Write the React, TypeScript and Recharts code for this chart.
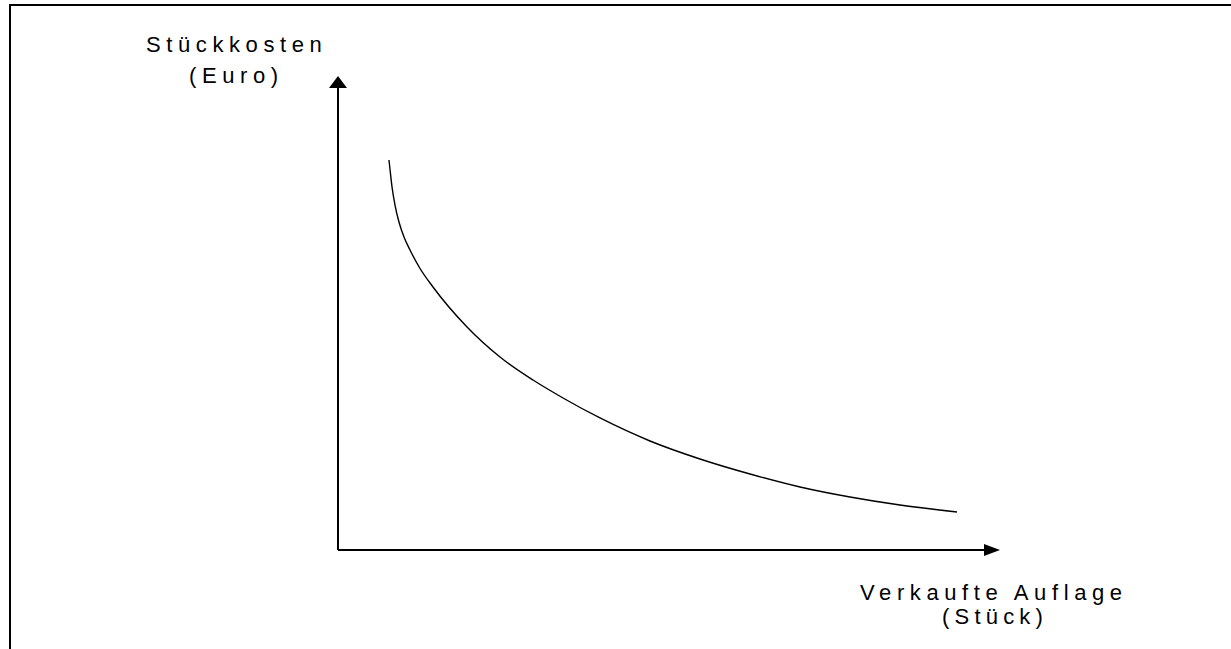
import { Line, LineChart, ReferenceLine, XAxis, YAxis } from "recharts";

// Verkaufte Auflage (arbitrary units, 0..100) and Stückkosten (0..100)
const auflage = [7.7, 7.85, 8.16, 8.61, 9.21, 9.97, 10.88, 12.39, 14.35, 19.49, 24.47, 29.46, 33.99, 39.58, 47.13, 54.68, 62.24, 69.79, 77.34, 84.89, 93.5];
const kosten = [82.28, 80.38, 76.58, 72.78, 69.2, 66.03, 63.29, 59.39, 55.49, 47.05, 40.72, 35.86, 32.07, 27.85, 23.0, 19.2, 16.03, 13.29, 11.18, 9.49, 8.02];

const yLabel = ["Stückkosten", "(Euro)"];
const xLabel = ["Verkaufte Auflage", "(Stück)"];

const data = auflage.map((a, i) => ({ auflage: a, kosten: kosten[i] }));

const FONT = "'Liberation Sans', Arial, sans-serif";

const ArrowX = (p: any) => (
  <g>
    <line x1={p.x1} y1={p.y1} x2={p.x2 - 14} y2={p.y2} stroke="#000" strokeWidth={2} />
    <polygon points={`${p.x2},${p.y2} ${p.x2 - 16},${p.y2 - 6} ${p.x2 - 16},${p.y2 + 6}`} fill="#000" />
  </g>
);

const ArrowY = (p: any) => (
  <g>
    <line x1={p.x1} y1={p.y1} x2={p.x2} y2={p.y2 + 10} stroke="#000" strokeWidth={2} />
    <polygon points={`${p.x2},${p.y2} ${p.x2 - 9},${p.y2 + 12} ${p.x2 + 9},${p.y2 + 12}`} fill="#000" />
  </g>
);

export default function App() {
  return (
    <div
      style={{
        position: "absolute",
        left: 0,
        top: 0,
        width: 1231,
        height: 649,
        background: "#fff",
      }}
    >
      <div
        style={{
          position: "absolute",
          left: 9,
          top: 4,
          right: 0,
          bottom: 0,
          borderTop: "2px solid #000",
          borderLeft: "2px solid #000",
        }}
      />
      <LineChart
        width={1231}
        height={649}
        data={data}
        margin={{ top: 76, right: 231, bottom: 99, left: 338 }}
        style={{ position: "absolute", left: 0, top: 0 }}
      >
        <XAxis type="number" dataKey="auflage" domain={[0, 100]} hide />
        <YAxis type="number" domain={[0, 100]} hide />
        <ReferenceLine
          segment={[{ x: 0, y: 0 }, { x: 100, y: 0 }]}
          ifOverflow="visible"
          shape={ArrowX}
        />
        <ReferenceLine
          segment={[{ x: 0, y: 0 }, { x: 0, y: 100 }]}
          ifOverflow="visible"
          shape={ArrowY}
        />
        <Line
          type="monotone"
          dataKey="kosten"
          stroke="#000"
          strokeWidth={1.4}
          dot={false}
          isAnimationActive={false}
        />
        <text x={146} y={52} fontFamily={FONT} fontSize={22} letterSpacing={5.6} fill="#000">
          {yLabel[0]}
        </text>
        <text x={189} y={83} fontFamily={FONT} fontSize={22} letterSpacing={5.6} fill="#000">
          {yLabel[1]}
        </text>
        <text x={860} y={600} fontFamily={FONT} fontSize={22} letterSpacing={5.6} fill="#000">
          {xLabel[0]}
        </text>
        <text x={942} y={624} fontFamily={FONT} fontSize={22} letterSpacing={5.2} fill="#000">
          {xLabel[1]}
        </text>
      </LineChart>
    </div>
  );
}
